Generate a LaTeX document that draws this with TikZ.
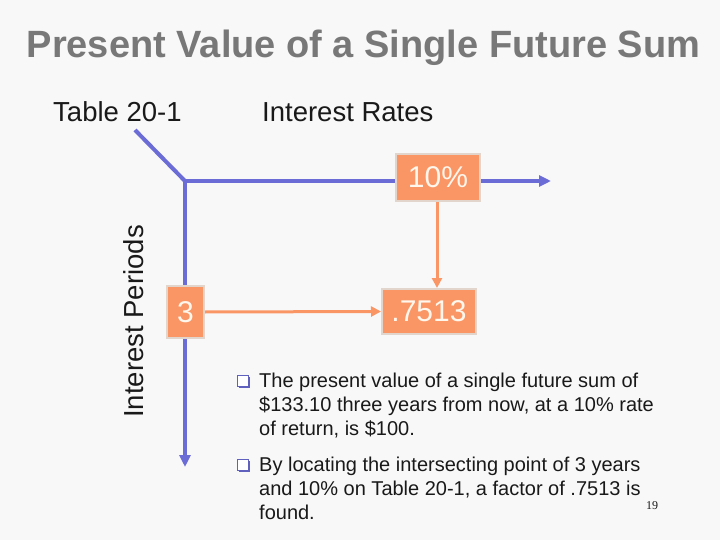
\documentclass[tikz,border=0pt]{standalone}
\usepackage{fontspec}
\setmainfont{Liberation Sans}
\newfontfamily\pagenumfont{Liberation Serif}
\usetikzlibrary{arrows.meta,shadows}
\definecolor{slidebg}{RGB}{248,248,248}
\definecolor{axisblue}{RGB}{108,108,214}
\definecolor{cellorange}{RGB}{250,150,102}
\definecolor{cellborder}{RGB}{226,214,204}
\definecolor{celltext}{RGB}{255,246,236}
\definecolor{titlegray}{RGB}{120,120,120}
\definecolor{textdark}{RGB}{25,25,25}
\definecolor{bulletblue}{RGB}{96,96,190}

\begin{document}
\begin{tikzpicture}[
  x=1pt, y=-1pt,
  axis/.style={draw=axisblue, line width=4pt},
  axisarr/.style={axis, -{Triangle[length=12pt,width=11pt]}},
  cell/.style={draw=cellborder, line width=2pt, fill=cellorange, text=celltext, font=\fontsize{30}{30}\selectfont, inner sep=0pt},
  lookup/.style={draw=cellorange, line width=3pt, -{Triangle[length=10pt,width=10pt]}},
  heading/.style={text=textdark, font=\fontsize{27.5}{28}\selectfont, inner sep=0pt},
  bulletsq/.style={draw=bulletblue, line width=1.2pt, fill=white, minimum size=11pt, inner sep=0pt,
    drop shadow={shadow xshift=1.5pt, shadow yshift=-1.5pt, fill=bulletblue, opacity=1}},
  bullettext/.style={text=textdark, font=\fontsize{20}{24}\selectfont, align=left, inner sep=0pt}
]
  \fill[slidebg] (0,0) rectangle (720,540);
  \useasboundingbox (0,0) rectangle (720,540);

  % title and axis headings
  \node[text=titlegray, font=\bfseries\fontsize{38}{38}\selectfont, anchor=base, inner sep=0pt] (title) at (363.5,57.5) {Present Value of a Single Future Sum};
  \node[heading, anchor=base west] (table) at (53,122) {Table 20-1};
  \node[heading, anchor=base west] (rates) at (262,122) {Interest Rates};
  \node[heading, anchor=base, rotate=90] (periods) at (143,321.5) {Interest Periods};

  % table axes
  \coordinate (diagtop) at (135,130);
  \coordinate (corner) at (185,181);
  \coordinate (rateend) at (551,181);
  \coordinate (periodend) at (185,467);
  \draw[axis] (diagtop) -- (corner);
  \draw[axisarr] (corner) -- (rateend);
  \draw[axisarr] (corner) -- (periodend);

  % table cells
  \node[cell, minimum width=84pt, minimum height=47pt] (rate10) at (438,177.5) {10\%};
  \node[cell, minimum width=94pt, minimum height=45pt] (factor) at (429,311.5) {.7513};
  \node[cell, minimum width=37pt, minimum height=52pt] (per3) at (185.5,312) {3};

  \draw[lookup] (rate10.south -| 437,0) -- (437,0 |- factor.north);
  \draw[lookup] (per3.east) -- (factor.west);

  % notes (anchored on the last line)
  \node[bulletsq] (bul1) at (243,381) {};
  \node[bullettext, anchor=base west] (note1) at (259,435) {The present value of a single future sum of\\\$133.10 three years from now, at a 10\% rate\\of return, is \$100.};
  \node[bulletsq] (bul2) at (243,465) {};
  \node[bullettext, anchor=base west] (note2) at (259,519) {By locating the intersecting point of 3 years\\and 10\% on Table 20-1, a factor of .7513 is\\found.};

  \node[text=textdark, font=\pagenumfont\fontsize{12}{12}\selectfont, anchor=base, inner sep=0pt] (pagenum) at (652,509) {19};
\end{tikzpicture}
\end{document}
